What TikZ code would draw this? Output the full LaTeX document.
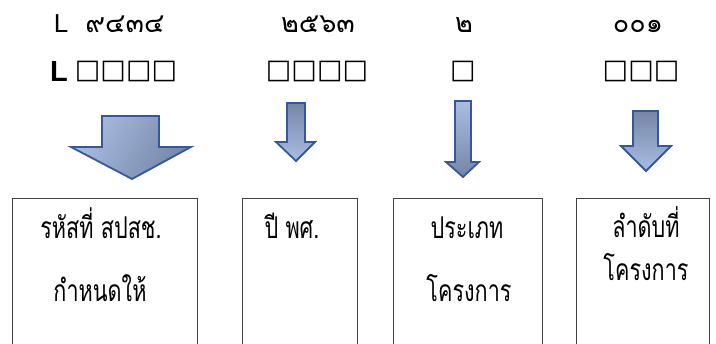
\documentclass[tikz,border=0pt]{standalone}
\usepackage{fontspec}
\newfontfamily\thaifont[Script=Thai]{Loma}
\newfontfamily\thaitall[Script=Thai, FakeStretch=0.72]{Loma}
\newfontfamily\symfont{DejaVu Sans}
\setmainfont{Liberation Sans}
\definecolor{arrlight}{HTML}{AABEE2}
\definecolor{arrdark}{HTML}{7585A6}
\definecolor{arredge}{HTML}{35589A}
\definecolor{boxedge}{HTML}{404040}
\begin{document}
\begin{tikzpicture}[x=1pt,y=-1pt,
  code/.style={font=\fontsize{27}{29}\selectfont\thaifont, inner sep=0pt, anchor=base},
  tofu/.style={font=\fontsize{27}{29}\selectfont\symfont, inner sep=0pt},
  lab/.style={font=\fontsize{30}{32}\selectfont\thaitall, inner sep=0pt, anchor=base},
  box/.style={draw=boxedge, line width=0.9pt},
  arr/.style={draw=arredge, line width=1.8pt, line join=miter},
]
\useasboundingbox (0,0) rectangle (716,344);
\clip (0,0) rectangle (716,344);
% row 1
\node[inner sep=0pt, anchor=base, font=\fontsize{26}{28}\selectfont] (l1) at (61,33) {L};
\node[code] (c1) at (125,33) {๙๔๓๔};
\node[code] (c2) at (318,33) {๒๕๖๓};
\node[code] (c3) at (464,33) {๒};
\node[code] (c4) at (638,33) {๐๐๑};
% row 2
\node[inner sep=0pt, anchor=base, font=\fontsize{29}{31}\selectfont\bfseries] (l2) at (59,82) {L};
\node[tofu] (t1) at (126,71) {□□□□};
\node[tofu] (t2) at (317,71) {□□□□};
\node[tofu] (t3) at (463,71) {□};
\node[tofu] (t4) at (641,71) {□□□};
% arrows
\shade[left color=arrlight, right color=arrdark, shading angle=60]
  (102,116) -- (159,116) -- (159,147) -- (191,147) -- (132,179) -- (71,147) -- (102,147) -- cycle;
\draw[arr] (102,116) -- (159,116) -- (159,147) -- (191,147) -- (132,179) -- (71,147) -- (102,147) -- cycle;
\shade[top color=arrdark, bottom color=arrlight]
  (287,103) -- (305,103) -- (305,142) -- (315,142) -- (296,161) -- (276,142) -- (287,142) -- cycle;
\draw[arr] (287,103) -- (305,103) -- (305,142) -- (315,142) -- (296,161) -- (276,142) -- (287,142) -- cycle;
\shade[top color=arrlight, bottom color=arrdark]
  (455,101) -- (471,101) -- (471,162) -- (479,162) -- (463,177) -- (446,162) -- (455,162) -- cycle;
\draw[arr] (455,101) -- (471,101) -- (471,162) -- (479,162) -- (463,177) -- (446,162) -- (455,162) -- cycle;
\shade[top color=arrdark, bottom color=arrlight]
  (633,111) -- (658,111) -- (658,146) -- (671,146) -- (646,171) -- (621,146) -- (633,146) -- cycle;
\draw[arr] (633,111) -- (658,111) -- (658,146) -- (671,146) -- (646,171) -- (621,146) -- (633,146) -- cycle;
% boxes
\draw[box] (12,198) rectangle (197,380);
\draw[box] (242,198) rectangle (357,380);
\draw[box] (393,198) rectangle (542,380);
\draw[box] (576,198) rectangle (709,380);
% labels
\node[lab] (a1) at (101,239) {รหัสที่ สปสช.};
\node[lab] (a2) at (100,302) {กำหนดให้};
\node[lab] (b1) at (292,239) {ปี พศ.};
\node[lab] (p1) at (467,239) {ประเภท};
\node[lab] (p2) at (469,302) {โครงการ};
\node[lab] (q1) at (646,238) {ลำดับที่};
\node[lab] (q2) at (646,281) {โครงการ};
\end{tikzpicture}
\end{document}
